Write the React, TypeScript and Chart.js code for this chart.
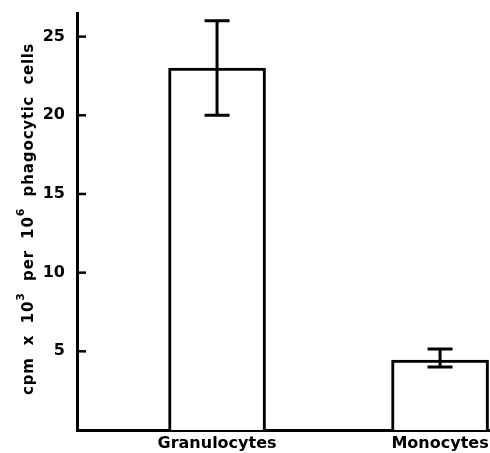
import React, { useEffect, useRef } from "react";
import { Chart, registerables } from "chart.js";

Chart.register(...registerables);

const categories = ["Granulocytes", "Monocytes"];
const xPositions = [1, 2];
const means = [23.0, 4.45];
const errLow = [20.0, 4.0];
const errHigh = [26.0, 5.15];
const yTicks = [5, 10, 15, 20, 25];

const FONT = "'DejaVu Sans', sans-serif";

const errorBarPlugin = {
  id: "errorBars",
  afterDatasetsDraw(chart: any) {
    const ctx = chart.ctx;
    const xs = chart.scales.x;
    const ys = chart.scales.y;
    ctx.save();
    ctx.strokeStyle = "#000";
    ctx.lineWidth = 3;
    ctx.lineCap = "butt";
    for (let i = 0; i < means.length; i++) {
      const x = xs.getPixelForValue(xPositions[i]);
      const yl = ys.getPixelForValue(errLow[i]);
      const yh = ys.getPixelForValue(errHigh[i]);
      ctx.beginPath();
      ctx.moveTo(x, yl);
      ctx.lineTo(x, yh);
      ctx.moveTo(x - 12.5, yl);
      ctx.lineTo(x + 12.5, yl);
      ctx.moveTo(x - 12.5, yh);
      ctx.lineTo(x + 12.5, yh);
      ctx.stroke();
    }
    ctx.restore();
  },
};

const innerTicksPlugin = {
  id: "innerTicks",
  afterDraw(chart: any) {
    const ctx = chart.ctx;
    const ys = chart.scales.y;
    const left = chart.chartArea.left;
    ctx.save();
    ctx.strokeStyle = "#000";
    ctx.lineWidth = 2.5;
    for (const v of yTicks) {
      const y = ys.getPixelForValue(v);
      ctx.beginPath();
      ctx.moveTo(left, y);
      ctx.lineTo(left + 9, y);
      ctx.stroke();
    }
    // rotated y-axis title with superscripts
    const segs: [string, boolean][] = [
      ["cpm  x  10", false],
      ["3", true],
      ["  per  10", false],
      ["6", true],
      ["  phagocytic  cells", false],
    ];
    const mainFont = `bold 15px ${FONT}`;
    const supFont = `bold 11px ${FONT}`;
    let total = 0;
    for (const [t, sup] of segs) {
      ctx.font = sup ? supFont : mainFont;
      total += ctx.measureText(t).width;
    }
    const scale = 352 / total;
    ctx.translate(29, 219);
    ctx.rotate(-Math.PI / 2);
    ctx.fillStyle = "#000";
    ctx.textBaseline = "middle";
    ctx.textAlign = "left";
    let x = -352 / 2;
    for (const [t, sup] of segs) {
      ctx.font = sup ? supFont : mainFont;
      const w = ctx.measureText(t).width;
      let cx = x;
      for (const ch of t.split("")) {
        ctx.fillText(ch, cx, sup ? -8 : 0);
        cx += ctx.measureText(ch).width * scale;
      }
      x += w * scale;
    }
    ctx.restore();
  },
};

export default function App() {
  const ref = useRef<HTMLCanvasElement>(null);
  useEffect(() => {
    const chart = new Chart(ref.current as HTMLCanvasElement, {
      type: "bar",
      data: {
        datasets: [
          {
            data: xPositions.map((x, i) => ({ x, y: means[i] })),
            backgroundColor: "#fff",
            borderColor: "#000",
            borderWidth: 3,
            borderSkipped: "bottom",
            barThickness: 97,
          },
        ],
      },
      options: {
        animation: false,
        responsive: false,
        devicePixelRatio: 1,
        layout: { padding: { top: 13, right: 0, left: 0, bottom: 0 } },
        plugins: { legend: { display: false }, tooltip: { enabled: false } },
        scales: {
          x: {
            type: "linear",
            offset: false,
            min: 0.372,
            max: 2.224,
            grid: { display: false, drawTicks: false },
            border: { display: true, color: "#000", width: 3 },
            afterBuildTicks: (s: any) => {
              s.ticks = xPositions.map((v) => ({ value: v }));
            },
            afterFit: (s: any) => {
              s.height = 23;
              s.paddingLeft = 0;
              s.paddingRight = 0;
            },
            ticks: {
              padding: 4,
              color: "#000",
              font: { family: FONT, size: 16, weight: "bold" },
              callback: (v: any) => categories[xPositions.indexOf(Number(v))] ?? "",
            },
          },
          y: {
            min: 0,
            max: 26.5,
            grid: { display: false, drawTicks: false },
            border: { display: true, color: "#000", width: 3 },
            afterBuildTicks: (s: any) => {
              s.ticks = yTicks.map((v) => ({ value: v }));
            },
            afterFit: (s: any) => {
              s.width = 77;
              s.paddingTop = 0;
              s.paddingBottom = 0;
            },
            ticks: {
              padding: 12,
              color: "#000",
              font: { family: FONT, size: 16, weight: "bold" },
            },
          },
        },
      } as any,
      plugins: [errorBarPlugin, innerTicksPlugin],
    });
    return () => chart.destroy();
  }, []);
  return (
    <div style={{ position: "fixed", left: 0, top: 0, width: 490, height: 453, background: "#fff" }}>
      <canvas ref={ref} width={490} height={453} />
    </div>
  );
}
